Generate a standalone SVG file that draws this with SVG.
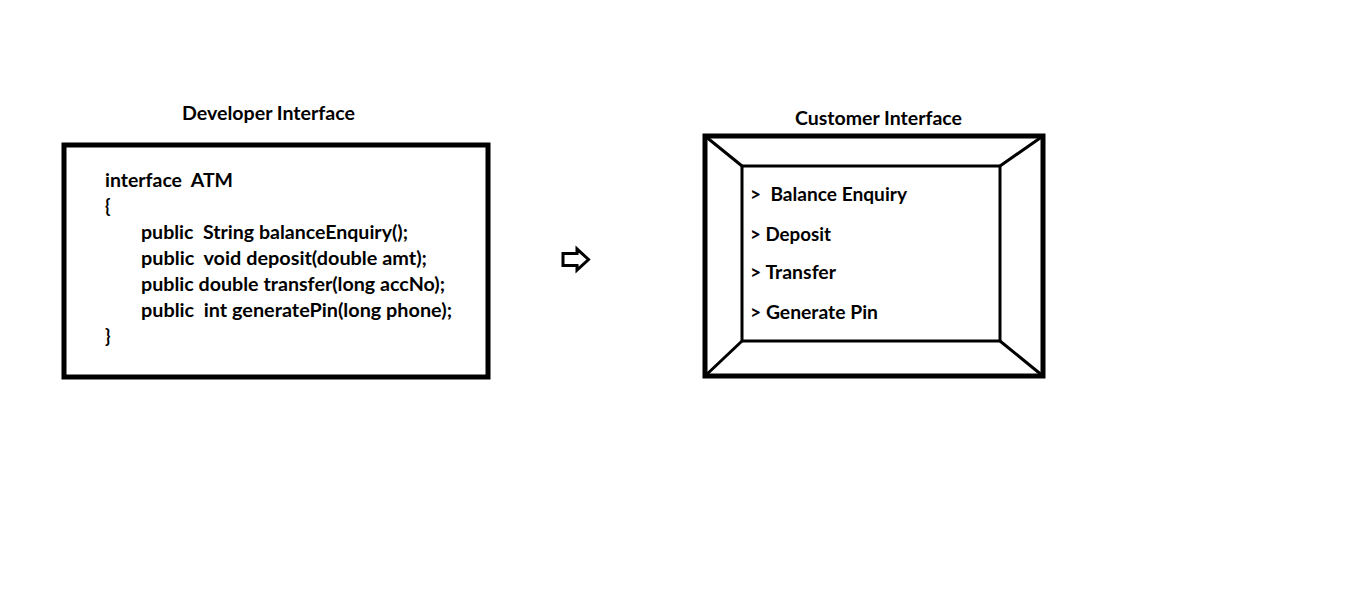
<svg xmlns="http://www.w3.org/2000/svg" width="1360" height="613" viewBox="0 0 1360 613">
<style>
text{font-family:Lato,"Liberation Sans",sans-serif;font-weight:bold;font-size:18px;fill:#000;white-space:pre}
.box{fill:none;stroke:#000;stroke-width:5}
.in{fill:none;stroke:#000;stroke-width:3}
</style>
<rect width="1360" height="613" fill="#fff"/>
<g id="developer">
<text x="182" y="119.5" textLength="173" lengthAdjust="spacingAndGlyphs">Developer Interface</text>
<rect class="box" x="64" y="145" width="424" height="232"/>
<text x="105" y="187" textLength="128" lengthAdjust="spacingAndGlyphs" xml:space="preserve">interface  ATM</text>
<text x="105" y="213">{</text>
<text x="141" y="239" textLength="267" lengthAdjust="spacingAndGlyphs" xml:space="preserve">public  String balanceEnquiry();</text>
<text x="141" y="265" textLength="286" lengthAdjust="spacingAndGlyphs" xml:space="preserve">public  void deposit(double amt);</text>
<text x="141" y="291" textLength="304" lengthAdjust="spacingAndGlyphs">public double transfer(long accNo);</text>
<text x="141" y="317" textLength="311" lengthAdjust="spacingAndGlyphs" xml:space="preserve">public  int generatePin(long phone);</text>
<text x="105" y="343">}</text>
</g>
<g id="connectors">
<path d="M563 253.5 H577 V249 L588.5 259.5 L577 270 V265.5 H563 Z" fill="#fff" stroke="#000" stroke-width="3" stroke-linejoin="miter"/>
</g>
<g id="customer">
<text x="795" y="124.5" textLength="167" lengthAdjust="spacingAndGlyphs">Customer Interface</text>
<rect class="box" x="705" y="136" width="338" height="240"/>
<rect class="in" x="742" y="166" width="258" height="175"/>
<path class="in" d="M705 136 L742 166 M1043 136 L1000 166 M705 376 L742 341 M1043 376 L1000 341"/>
<text x="750" y="201" textLength="157" lengthAdjust="spacingAndGlyphs" xml:space="preserve">&gt;  Balance Enquiry</text>
<text x="750" y="241" textLength="81" lengthAdjust="spacingAndGlyphs">&gt; Deposit</text>
<text x="750" y="279" textLength="86" lengthAdjust="spacingAndGlyphs">&gt; Transfer</text>
<text x="750" y="319" textLength="128" lengthAdjust="spacingAndGlyphs">&gt; Generate Pin</text>
</g>
</svg>
